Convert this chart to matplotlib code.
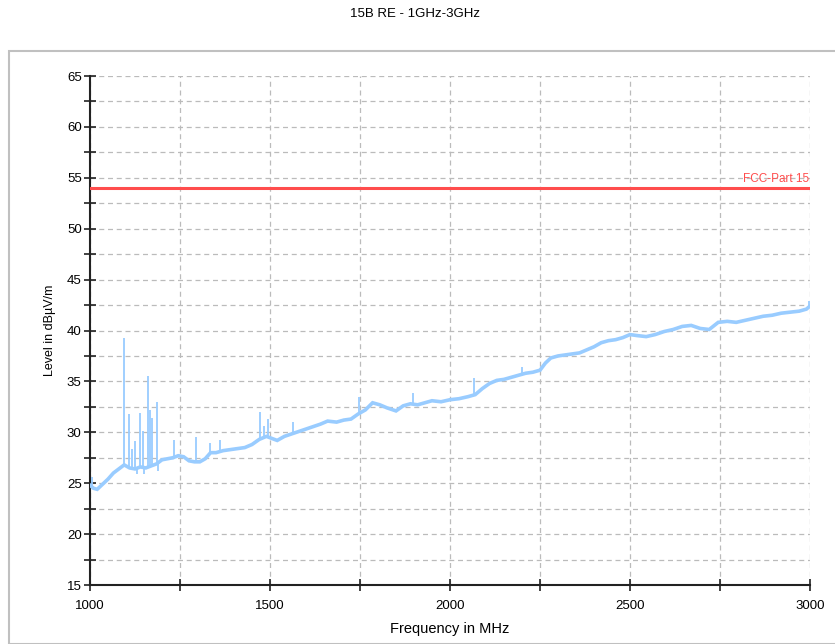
import matplotlib.pyplot as plt
from matplotlib.patches import Rectangle
from matplotlib.ticker import MultipleLocator

plt.rcParams['font.family'] = ['Liberation Sans', 'DejaVu Sans']

# Messkurve (Grundverlauf) in MHz / dBuV/m
freq = [1000, 1010, 1020, 1035, 1050, 1065, 1080, 1095, 1110, 1125, 1140, 1155, 1170, 1185,
        1200, 1215, 1230, 1245, 1260, 1275, 1290, 1305, 1320, 1335, 1350, 1370, 1390, 1410,
        1430, 1450, 1470, 1490, 1505, 1520, 1540, 1565, 1590, 1615, 1640, 1660, 1685, 1705,
        1725, 1745, 1765, 1785, 1805, 1825, 1850, 1870, 1890, 1910, 1930, 1950, 1975, 2000,
        2025, 2050, 2070, 2090, 2110, 2130, 2150, 2170, 2190, 2210, 2230, 2250, 2265, 2280,
        2300, 2320, 2340, 2360, 2380, 2400, 2420, 2440, 2460, 2480, 2500, 2520, 2545, 2570,
        2595, 2620, 2645, 2670, 2695, 2720, 2745, 2770, 2795, 2820, 2845, 2870, 2895, 2920,
        2945, 2970, 2990, 3000]
level = [24.8, 24.5, 24.4, 24.9, 25.4, 26.0, 26.4, 26.8, 26.5, 26.4, 26.6, 26.5, 26.7, 26.9,
         27.3, 27.4, 27.5, 27.7, 27.6, 27.2, 27.1, 27.1, 27.4, 28.0, 28.0, 28.2, 28.3, 28.4,
         28.5, 28.8, 29.3, 29.6, 29.4, 29.2, 29.6, 29.9, 30.2, 30.5, 30.8, 31.1, 31.0, 31.2,
         31.3, 31.8, 32.2, 32.9, 32.7, 32.4, 32.1, 32.6, 32.8, 32.7, 32.9, 33.1, 33.0, 33.2,
         33.3, 33.5, 33.7, 34.3, 34.8, 35.1, 35.2, 35.4, 35.6, 35.8, 35.9, 36.1, 36.8, 37.3,
         37.5, 37.6, 37.7, 37.8, 38.1, 38.4, 38.8, 39.0, 39.1, 39.3, 39.6, 39.5, 39.4, 39.6,
         39.9, 40.1, 40.4, 40.5, 40.2, 40.1, 40.8, 40.9, 40.8, 41.0, 41.2, 41.4, 41.5, 41.7,
         41.8, 41.9, 42.1, 42.4]

# Einzelne Spitzen
spike_freq = [1005, 1095, 1109, 1118, 1124, 1130, 1139, 1146, 1150, 1162, 1167, 1173, 1187,
              1190, 1233, 1294, 1333, 1362, 1472, 1482, 1495, 1565, 1747, 1897, 2067, 2200, 2997]
spike_base = [24.6, 26.8, 26.5, 26.4, 26.4, 26.4, 26.6, 26.5, 26.5, 26.6, 26.7, 26.7, 26.9,
              26.9, 27.5, 27.1, 28.0, 28.2, 29.3, 29.4, 29.6, 29.9, 31.8, 32.8, 33.6, 35.7, 42.3]
spike_top = [25.6, 39.3, 31.8, 28.4, 29.1, 25.9, 31.9, 30.1, 25.9, 35.5, 32.2, 31.4, 33.0,
             26.2, 29.2, 29.5, 28.9, 29.2, 32.0, 30.6, 31.3, 31.0, 33.5, 33.9, 35.3, 36.4, 42.9]

limit_freq = [1000, 3000]
limit_level = [54, 54]

fig = plt.figure(figsize=(8.35, 6.44), dpi=100)
ax = fig.add_axes([90/835, 1-585/644, 720/835, 509/644])

# Rahmen um das Diagramm
fig.patches.append(Rectangle((9/835, 0), 1, 1-51/644, transform=fig.transFigure,
                             fill=False, edgecolor='#c0c0c0', linewidth=1.5))

trace_col = '#99ccff'
ax.plot(freq, level, color=trace_col, linewidth=2.6, solid_joinstyle='miter', zorder=3)
ax.vlines(spike_freq, spike_base, spike_top, color=trace_col, linewidth=1.3, zorder=3)
ax.plot(limit_freq, limit_level, color='#ff4d4d', linewidth=2.2, zorder=4)
ax.text(2998, 54.3, 'FCC-Part 15', color='#ff4d4d', fontsize=8.5, ha='right', va='bottom', zorder=5)

ax.set_xlim(1000, 3000)
ax.set_ylim(15, 65)
ax.xaxis.set_major_locator(MultipleLocator(500))
ax.xaxis.set_minor_locator(MultipleLocator(250))
ax.yaxis.set_major_locator(MultipleLocator(5))
ax.yaxis.set_minor_locator(MultipleLocator(2.5))
ax.grid(True, which='both', color='#bbbbbb', linestyle=(0, (4, 3)), linewidth=0.9, zorder=1)
ax.set_axisbelow(True)

for s in ['top', 'right']:
    ax.spines[s].set_visible(False)
for s in ['left', 'bottom']:
    ax.spines[s].set_linewidth(1.5)
    ax.spines[s].set_color('#222222')

ax.tick_params(which='both', direction='inout', length=8, width=1.2, color='#222222',
               labelsize=9.5)
ax.tick_params(axis='x', pad=7)
ax.tick_params(axis='y', pad=2)

ax.set_xlabel('Frequency in MHz', fontsize=10.5, labelpad=7)
ax.set_ylabel('Level in dBµV/m', fontsize=9, labelpad=8)
fig.text(415/835, 1-14/644, '15B RE - 1GHz-3GHz', ha='center', va='center', fontsize=9.5)

fig.savefig('out.png', dpi=100)
